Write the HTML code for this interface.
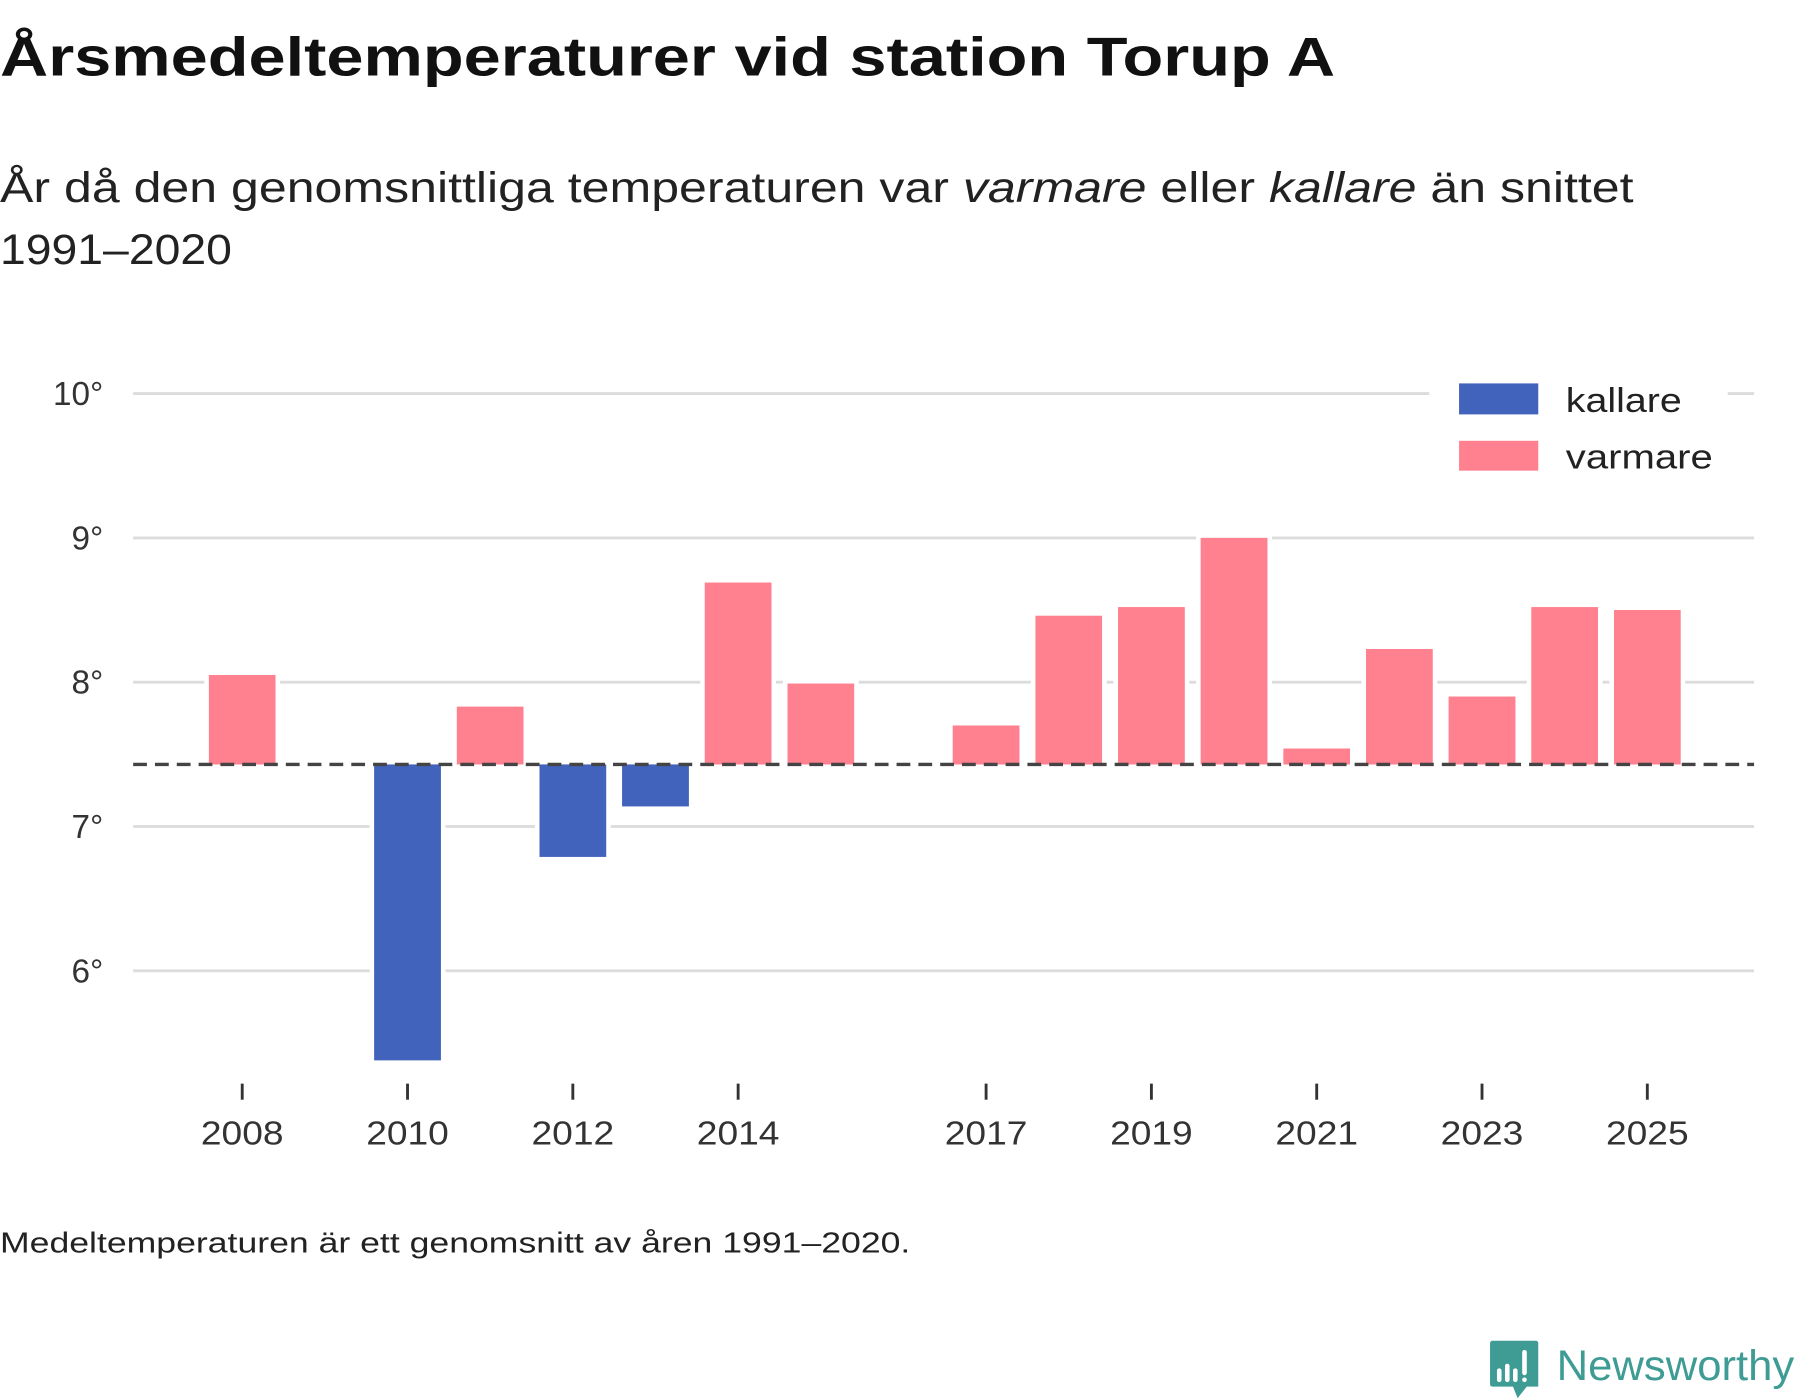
<!DOCTYPE html>
<html><head><meta charset="utf-8"><style>
html,body{margin:0;padding:0;background:#fff;}
svg{display:block;font-family:"Liberation Sans","DejaVu Sans",sans-serif;}
</style></head><body>
<svg id="chart" width="1800" height="1400" viewBox="0 0 1568 1219.6" preserveAspectRatio="none" xmlns="http://www.w3.org/2000/svg">
<text x="0" y="66" font-size="48" font-weight="bold" fill="#111" textLength="1163" lengthAdjust="spacingAndGlyphs">Årsmedeltemperaturer vid station Torup A</text>
<text x="0" y="176" font-size="37" fill="#222" textLength="1423" lengthAdjust="spacingAndGlyphs">År då den genomsnittliga temperaturen var <tspan font-style="italic">varmare</tspan> eller <tspan font-style="italic">kallare</tspan> än snittet</text>
<text x="0" y="230" font-size="37" fill="#222" textLength="202" lengthAdjust="spacingAndGlyphs">1991–2020</text>
<g id="grid"></g>
<g id="ylabels"></g>
<g id="bars"></g>
<g id="xaxis"></g>
<g>
<rect x="1245" y="325" width="260" height="100" fill="#fff"/>
<rect x="1271" y="334" width="69" height="27" fill="#4263bb"/>
<text x="1364" y="359" font-size="30" fill="#222" textLength="101" lengthAdjust="spacingAndGlyphs">kallare</text>
<rect x="1271" y="384" width="69" height="26" fill="#ff808f"/>
<text x="1364" y="408" font-size="30" fill="#222" textLength="128" lengthAdjust="spacingAndGlyphs">varmare</text>
</g>
<text x="0" y="1091" font-size="25" fill="#222" textLength="793" lengthAdjust="spacingAndGlyphs">Medeltemperaturen är ett genomsnitt av åren 1991–2020.</text>
<g>
<path d="M1300 1168 h38 a2 2 0 0 1 2 2 v38 h-10 l-8 10 l-4 -10 h-18 a2 2 0 0 1 -2 -2 v-36 a2 2 0 0 1 2 -2z" fill="#3f9c95"/>
<rect x="1304" y="1192" width="4" height="12" rx="2" fill="#fff"/>
<rect x="1311" y="1188" width="4" height="16" rx="2" fill="#fff"/>
<rect x="1318" y="1192" width="4" height="12" rx="2" fill="#fff"/>
<rect x="1326" y="1176" width="4" height="22" rx="2" fill="#fff"/>
<rect x="1326" y="1200" width="4" height="4" rx="2" fill="#fff"/>
<text x="1356" y="1202" font-size="37" fill="#3f9c95" textLength="207" lengthAdjust="spacingAndGlyphs">Newsworthy</text>
</g>
</svg>
<script>
const years = [2008,2009,2010,2011,2012,2013,2014,2015,2016,2017,2018,2019,2020,2021,2022,2023,2024,2025];
const temps = [8.05,null,5.38,7.83,6.79,7.14,8.69,7.99,null,7.70,8.46,8.52,9.00,7.54,8.23,7.90,8.52,8.50];
const average = 7.43;
const yTicks = [6,7,8,9,10];
const yTickLabels = ["6°","7°","8°","9°","10°"];
const xTickYears = [2008,2010,2012,2014,2017,2019,2021,2023,2025];

const NS = "http://www.w3.org/2000/svg";
const yScale = v => 720 - (v - 7) * 125.7;
const xScale = yr => 211 + (yr - 2008) * 72;
const barW = 58;
function mk(tag, attrs, parent){const e=document.createElementNS(NS,tag);for(const k in attrs)e.setAttribute(k,attrs[k]);parent.appendChild(e);return e;}
const grid=document.getElementById('grid'), yl=document.getElementById('ylabels'), bars=document.getElementById('bars'), xa=document.getElementById('xaxis');
yTicks.forEach((t,i)=>{
  const l=mk('line',{x1:116,x2:1528,y1:yScale(t),y2:yScale(t),stroke:'#dcdcdc','stroke-width':2.5},grid);
  
  
  const tx=mk('text',{x:90,y:yScale(t)+10,'text-anchor':'end','font-size':29,fill:'#333'},yl);
  tx.textContent=yTickLabels[i];
  
  
});
years.forEach((yr,i)=>{
  const v=temps[i]; if(v===null) return;
  const top=Math.min(yScale(v),yScale(average)), h=Math.abs(yScale(v)-yScale(average));
  const r=mk('rect',{x:xScale(yr)-barW/2,y:top,width:barW,height:h,fill:v>=average?'#ff808f':'#4263bb',stroke:'#fff','stroke-width':8,'paint-order':'stroke'},bars);
  
  
});
years.forEach((yr,i)=>{
  const v=temps[i]; if(v===null) return;
  const top=Math.min(yScale(v),yScale(average)), h=Math.abs(yScale(v)-yScale(average));
  mk('rect',{x:xScale(yr)-barW/2,y:top,width:barW,height:h,fill:v>=average?'#ff808f':'#4263bb'},bars);
});
const avg=mk('line',{x1:116,x2:1528,y1:yScale(average),y2:yScale(average),stroke:'#444','stroke-width':3,'stroke-dasharray':'12 7'},bars);


xTickYears.forEach(yr=>{
  const t=mk('line',{x1:xScale(yr),x2:xScale(yr),y1:944,y2:958,stroke:'#333','stroke-width':2.5},xa);
  
  
  const tx=mk('text',{x:xScale(yr),y:997,'text-anchor':'middle','font-size':29,fill:'#333',textLength:72,lengthAdjust:'spacingAndGlyphs'},xa);
  tx.textContent=yr;
  
  
});
</script>
</body></html>
